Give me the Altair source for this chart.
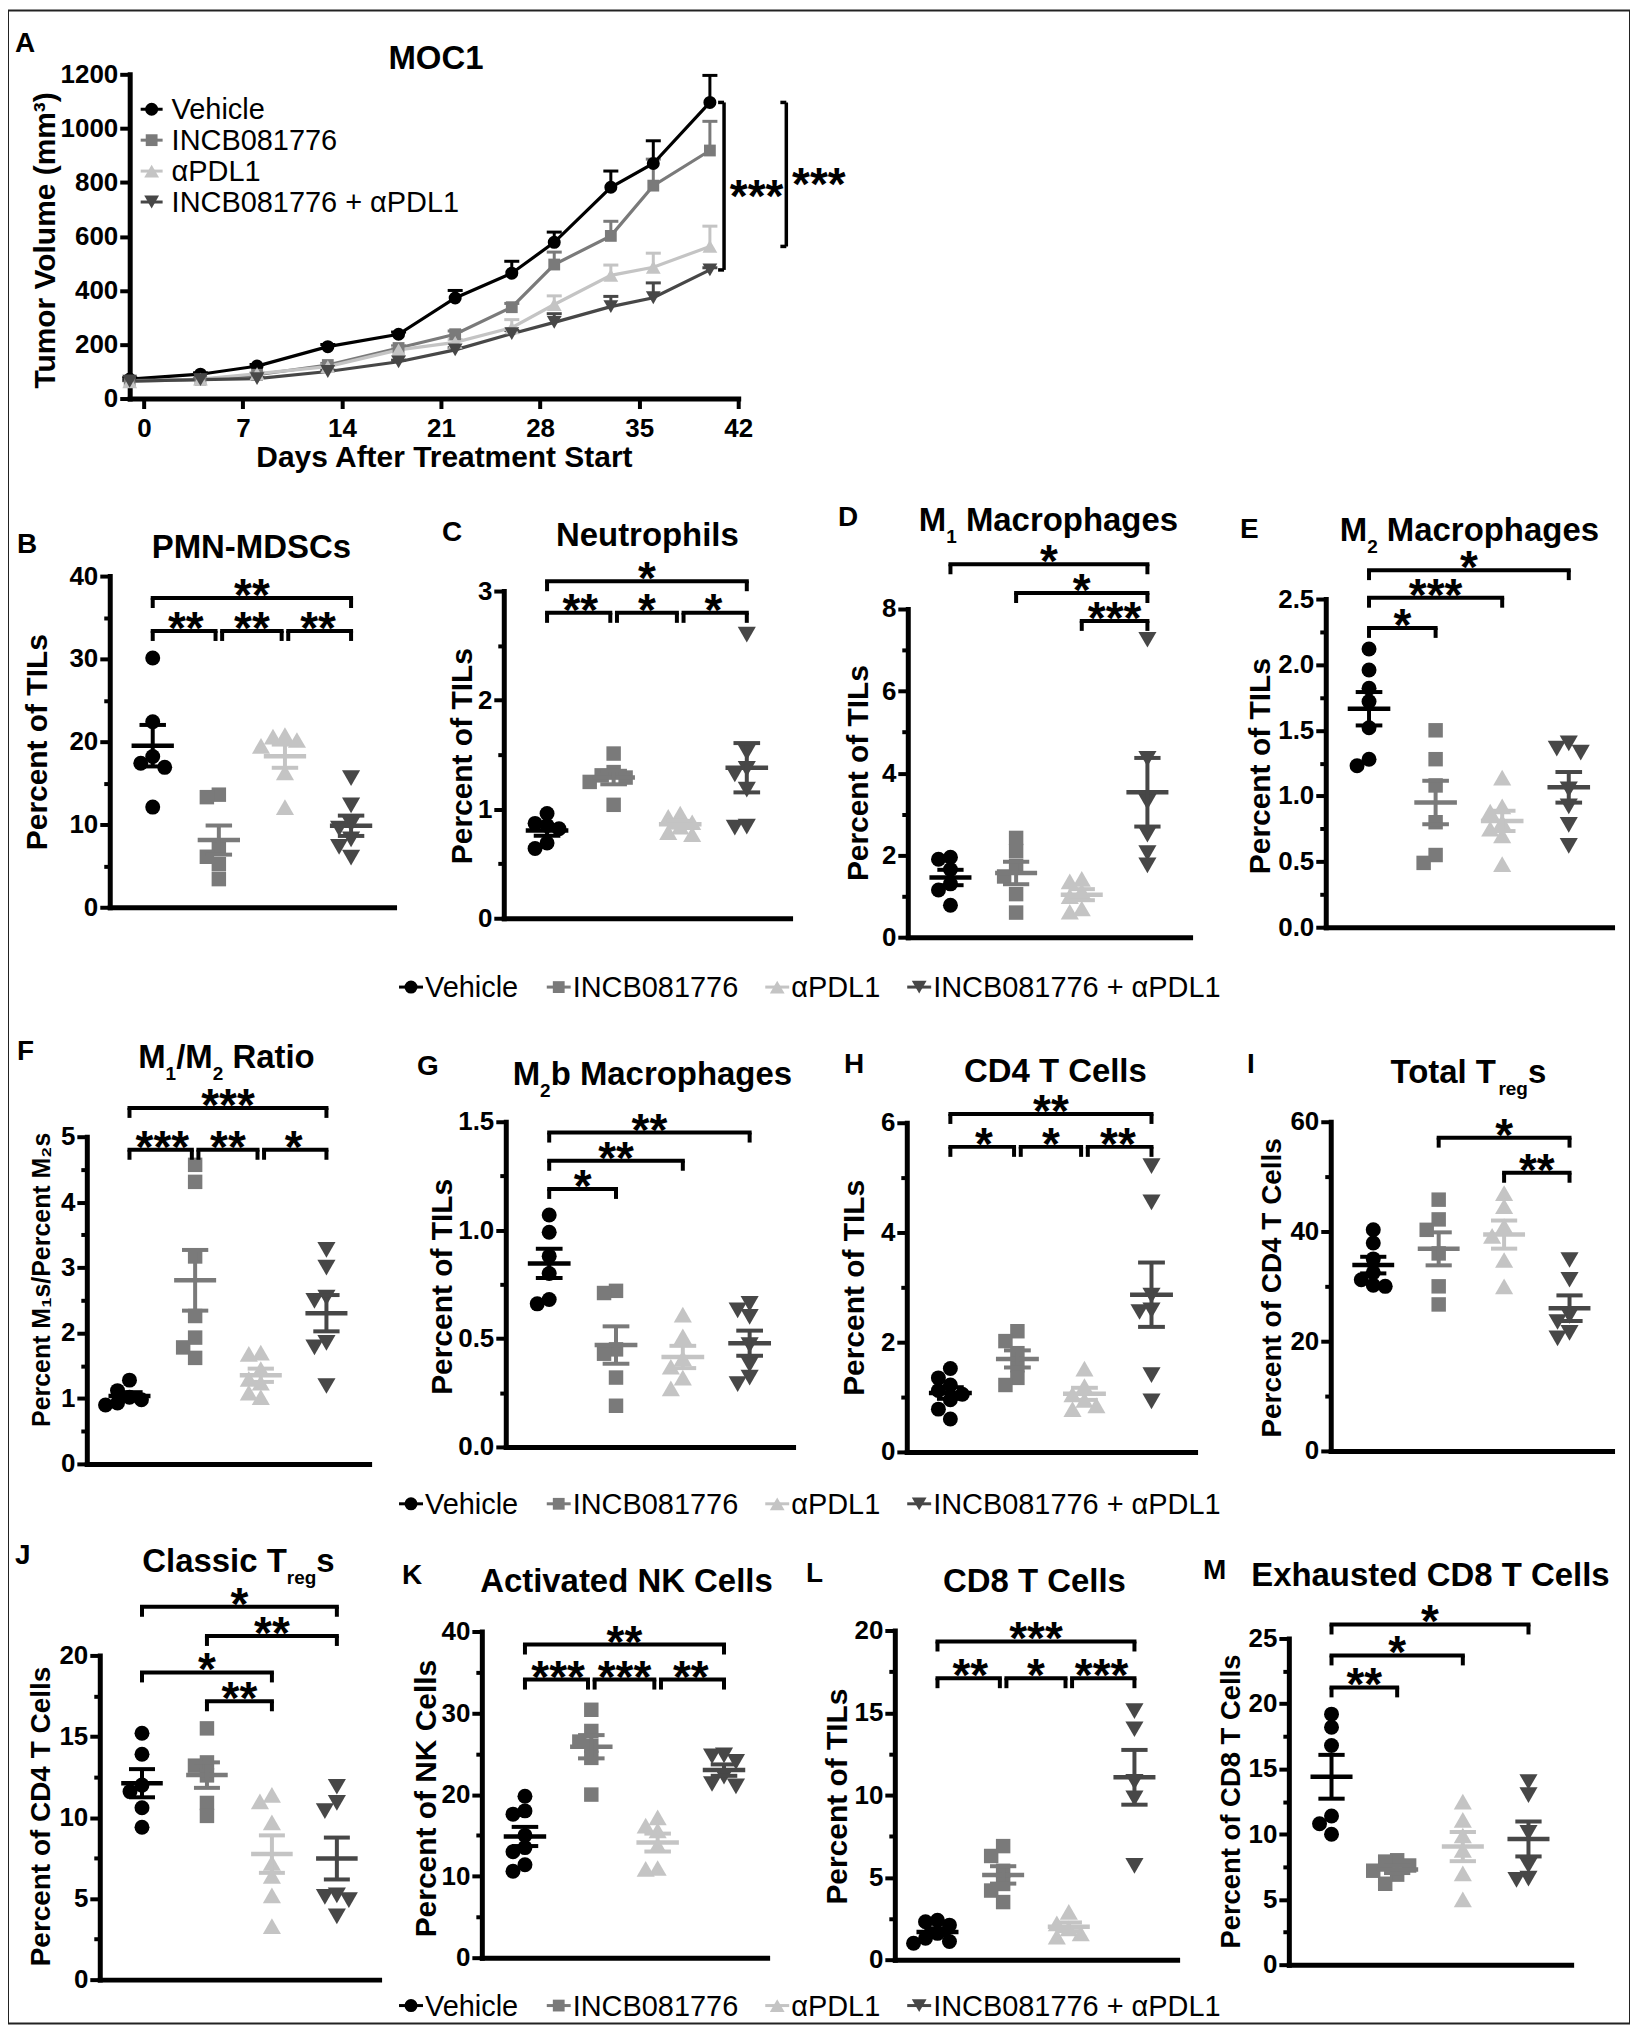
import altair as alt
import pandas as pd

# ---------------------------------------------------------------- data
GROUPS = ["Vehicle", "INCB081776", "αPDL1", "INCB081776 + αPDL1"]

# Panel A  (mean tumour volume, upper SEM)
A_DAYS = [-1, 4, 8, 13, 18, 22, 26, 29, 33, 36, 40]
A_VEHICLE = [72, 90, 120, 192, 238, 372, 464, 578, 782, 870, 1096]
A_VEHICLE_SEM = [5, 5, 6, 8, 8, 28, 44, 38, 60, 84, 100]
A_INCB = [66, 70, 88, 124, 187, 238, 338, 496, 602, 788, 918]
A_INCB_SEM = [4, 4, 5, 6, 8, 12, 14, 46, 54, 98, 108]
A_APDL1 = [62, 72, 92, 118, 180, 208, 262, 348, 456, 486, 563]
A_APDL1_SEM = [3, 4, 5, 6, 8, 10, 30, 32, 38, 52, 75]
A_COMBO = [64, 70, 74, 100, 136, 180, 240, 282, 340, 373, 476]
A_COMBO_SEM = [3, 3, 4, 5, 6, 8, 12, 32, 38, 55, 8]
A_X_TICKS = [0, 7, 14, 21, 28, 35, 42]
A_Y_TICKS = [0, 200, 400, 600, 800, 1000, 1200]
A_SIG = [(0, 3, "***"), (0, 2, "***")]

B_VEHICLE = [30.1, 22.4, 18.2, 17.4, 16.9, 12.1]
B_INCB = [13.6, 13.3, 7.1, 6.1, 5.2, 3.4]
B_APDL1 = [20.8, 20.6, 20.2, 19.5, 16.3, 12.1]
B_COMBO = [15.6, 12.3, 10.0, 9.5, 8.2, 7.3, 6.0]
B_TICKS = [0, 10, 20, 30, 40]
B_MINOR = [5, 15, 25, 35]
B_SIG = [(0, 3, "**"), (0, 1, "**"), (1, 2, "**"), (2, 3, "**")]

C_VEHICLE = [0.96, 0.87, 0.85, 0.82, 0.69, 0.64]
C_INCB = [1.51, 1.34, 1.31, 1.29, 1.25, 1.04]
C_APDL1 = [0.96, 0.93, 0.88, 0.84, 0.79, 0.77]
C_COMBO = [2.60, 1.52, 1.37, 1.32, 1.18, 0.84, 0.83]
C_TICKS = [0, 1, 2, 3]
C_MINOR = [0.5, 1.5, 2.5]
C_SIG = [(0, 3, "*"), (0, 1, "**"), (1, 2, "*"), (2, 3, "*")]

D_VEHICLE = [1.95, 1.90, 1.65, 1.30, 1.15, 0.78]
D_INCB = [2.42, 2.10, 1.74, 1.48, 1.05, 0.60]
D_APDL1 = [1.42, 1.36, 1.12, 1.00, 0.70, 0.62]
D_COMBO = [7.25, 4.35, 3.30, 2.50, 2.05, 1.75]
D_TICKS = [0, 2, 4, 6, 8]
D_MINOR = [1, 3, 5, 7]
D_SIG = [(0, 3, "*"), (1, 3, "*"), (2, 3, "***")]

E_VEHICLE = [2.12, 1.96, 1.82, 1.72, 1.52, 1.28, 1.23]
E_INCB = [1.50, 1.28, 1.08, 0.80, 0.55, 0.49]
E_APDL1 = [1.14, 0.92, 0.88, 0.80, 0.75, 0.70, 0.48]
E_COMBO = [1.40, 1.36, 1.33, 1.05, 0.92, 0.78, 0.62]
E_TICKS = [0, 0.5, 1.0, 1.5, 2.0, 2.5]
E_MINOR = [0.25, 0.75, 1.25, 1.75, 2.25]
E_SIG = [(0, 3, "*"), (0, 2, "***"), (0, 1, "*")]

F_VEHICLE = [1.28, 1.12, 1.02, 0.98, 0.93, 0.90]
F_INCB = [4.57, 4.31, 3.17, 2.26, 1.93, 1.78, 1.62]
F_APDL1 = [1.70, 1.68, 1.45, 1.30, 1.24, 1.09, 1.02]
F_COMBO = [3.27, 3.00, 2.54, 2.49, 1.85, 1.78, 1.19]
F_TICKS = [0, 1, 2, 3, 4, 5]
F_MINOR = [0.5, 1.5, 2.5, 3.5, 4.5]
F_SIG = [(0, 3, "***"), (0, 1, "***"), (1, 2, "**"), (2, 3, "*")]

G_VEHICLE = [1.07, 0.99, 0.88, 0.80, 0.68, 0.66]
G_INCB = [0.72, 0.71, 0.45, 0.43, 0.32, 0.19]
G_APDL1 = [0.61, 0.51, 0.41, 0.37, 0.32, 0.27]
G_COMBO = [0.66, 0.63, 0.60, 0.47, 0.38, 0.32, 0.29]
G_TICKS = [0, 0.5, 1.0, 1.5]
G_MINOR = [0.25, 0.75, 1.25]
G_SIG = [(0, 3, "**"), (0, 2, "**"), (0, 1, "*")]

H_VEHICLE = [1.52, 1.35, 1.22, 1.12, 1.05, 0.95, 0.78, 0.60]
H_INCB = [2.20, 2.02, 1.80, 1.58, 1.35, 1.22]
H_APDL1 = [1.52, 1.20, 1.05, 0.95, 0.85, 0.78]
H_COMBO = [5.21, 4.55, 2.85, 2.58, 2.55, 1.40, 0.92]
H_TICKS = [0, 2, 4, 6]
H_MINOR = [1, 3, 5]
H_SIG = [(0, 3, "**"), (0, 1, "*"), (1, 2, "*"), (2, 3, "**")]

I_VEHICLE = [40.3, 37.9, 35.0, 32.5, 31.2, 30.2, 30.0]
I_INCB = [45.8, 42.2, 40.3, 36.0, 30.0, 26.7]
I_APDL1 = [47.0, 44.6, 41.0, 39.2, 34.8, 30.0]
I_COMBO = [34.8, 31.2, 24.6, 23.5, 21.5, 20.5]
I_TICKS = [0, 20, 40, 60]
I_MINOR = [10, 30, 50]
I_SIG = [(1, 3, "*"), (2, 3, "**")]

J_VEHICLE = [15.2, 13.9, 12.0, 11.6, 10.6, 9.4]
J_INCB = [15.5, 13.4, 13.2, 12.6, 10.9, 10.1]
J_APDL1 = [11.4, 11.0, 9.7, 7.2, 6.4, 5.2, 3.3]
J_COMBO = [11.9, 10.9, 10.4, 5.2, 5.1, 4.9, 3.9]
J_TICKS = [0, 5, 10, 15, 20]
J_MINOR = [2.5, 7.5, 12.5, 17.5]
J_SIG = [(0, 3, "*"), (1, 3, "**"), (0, 2, "*"), (1, 2, "**")]

K_VEHICLE = [19.8, 18.0, 17.6, 15.0, 13.5, 13.0, 11.4, 10.6]
K_INCB = [30.4, 27.8, 26.5, 26.0, 24.5, 20.0]
K_APDL1 = [17.2, 16.2, 15.6, 13.8, 11.0, 10.9]
K_COMBO = [24.8, 24.7, 24.0, 22.2, 21.3, 21.0]
K_TICKS = [0, 10, 20, 30, 40]
K_MINOR = [5, 15, 25, 35]
K_SIG = [(0, 3, "**"), (0, 1, "***"), (1, 2, "***"), (2, 3, "**")]

L_VEHICLE = [2.4, 2.3, 2.1, 1.6, 1.3, 1.1, 1.0]
L_INCB = [6.9, 6.3, 5.4, 4.6, 4.2, 3.5]
L_APDL1 = [2.9, 2.2, 1.9, 1.6, 1.4]
L_COMBO = [15.1, 14.0, 10.8, 9.8, 5.7]
L_TICKS = [0, 5, 10, 15, 20]
L_MINOR = [2.5, 7.5, 12.5, 17.5]
L_SIG = [(0, 3, "***"), (0, 1, "**"), (1, 2, "*"), (2, 3, "***")]

M_VEHICLE = [19.2, 18.2, 16.8, 11.4, 10.8, 10.0]
M_INCB = [8.0, 7.9, 7.6, 7.2, 6.9, 6.2]
M_APDL1 = [12.5, 11.1, 9.9, 8.8, 7.0, 5.0]
M_COMBO = [14.0, 13.0, 10.1, 7.6, 6.6, 6.5]
M_TICKS = [0, 5, 10, 15, 20, 25]
M_MINOR = [2.5, 7.5, 12.5, 17.5, 22.5]
M_SIG = [(0, 3, "*"), (0, 2, "*"), (0, 1, "**")]

# ---------------------------------------------------------------- style / layout
COLORS = ["#000000", "#7a7a7a", "#c4c4c4", "#474747"]
SHAPES = ["circle", "square", "triangle-up", "triangle-down"]
DOT_SIZE = [225, 210, 330, 330]
A_DOT_SIZE = [170, 140, 220, 220]
FONT = "Liberation Sans, Arial, Helvetica, sans-serif"
OFF = 8            # page margin
W, H = 1626, 2018  # canvas

BOLD_W = {' ': .278, '/': .278, '-': .333, 'A': .722, 'B': .722, 'C': .722, 'D': .722,
          'E': .667, 'F': .611, 'G': .778, 'H': .722, 'I': .278, 'J': .556, 'K': .722,
          'L': .611, 'M': .833, 'N': .722, 'O': .778, 'P': .667, 'R': .722, 'S': .667,
          'T': .611, 'a': .556, 'b': .611, 'c': .556, 'd': .611, 'e': .556, 'g': .611,
          'h': .611, 'i': .278, 'l': .278, 'm': .889, 'n': .611, 'o': .611, 'p': .611,
          'r': .389, 's': .556, 't': .333, 'u': .611, 'v': .556, 'x': .556}
REG_W = {' ': .278, '+': .584, 'B': .667, 'C': .722, 'D': .722, 'I': .278, 'L': .556,
         'N': .722, 'P': .667, 'V': .667, 'c': .5, 'e': .556, 'h': .556, 'i': .222,
         'l': .222, 'α': .579}


def tw(s, fs, table):
    return fs * sum(table.get(ch, 0.556) for ch in s)


PANELS = {
    "B": (B_VEHICLE, B_INCB, B_APDL1, B_COMBO, B_TICKS, B_MINOR, B_SIG),
    "C": (C_VEHICLE, C_INCB, C_APDL1, C_COMBO, C_TICKS, C_MINOR, C_SIG),
    "D": (D_VEHICLE, D_INCB, D_APDL1, D_COMBO, D_TICKS, D_MINOR, D_SIG),
    "E": (E_VEHICLE, E_INCB, E_APDL1, E_COMBO, E_TICKS, E_MINOR, E_SIG),
    "F": (F_VEHICLE, F_INCB, F_APDL1, F_COMBO, F_TICKS, F_MINOR, F_SIG),
    "G": (G_VEHICLE, G_INCB, G_APDL1, G_COMBO, G_TICKS, G_MINOR, G_SIG),
    "H": (H_VEHICLE, H_INCB, H_APDL1, H_COMBO, H_TICKS, H_MINOR, H_SIG),
    "I": (I_VEHICLE, I_INCB, I_APDL1, I_COMBO, I_TICKS, I_MINOR, I_SIG),
    "J": (J_VEHICLE, J_INCB, J_APDL1, J_COMBO, J_TICKS, J_MINOR, J_SIG),
    "K": (K_VEHICLE, K_INCB, K_APDL1, K_COMBO, K_TICKS, K_MINOR, K_SIG),
    "L": (L_VEHICLE, L_INCB, L_APDL1, L_COMBO, L_TICKS, L_MINOR, L_SIG),
    "M": (M_VEHICLE, M_INCB, M_APDL1, M_COMBO, M_TICKS, M_MINOR, M_SIG),
}

LAYOUT = {
    "B": dict(x=(110, 395), y=(907, 575), fmt="d", yt="Percent of TILs", ytfs=30, ytp=(47, 741),
              letter=(17, 552), title=[("PMN-MDSCs", 0)], tpos=(252, 557),
              levels=[37.35, 33.37, 33.37, 33.37]),
    "C": dict(x=(505, 792), y=(918, 590), fmt="d", yt="Percent of TILs", ytfs=30, ytp=(473, 755),
              letter=(443, 540), title=[("Neutrophils", 0)], tpos=(649, 545),
              levels=[3.09, 2.80, 2.80, 2.80]),
    "D": dict(x=(910, 1193), y=(937, 608), fmt="d", yt="Percent of TILs", ytfs=30, ytp=(870, 772),
              letter=(840, 525), title=[("M", 0), ("1", 1), (" Macrophages", 0)], tpos=(1051, 530),
              levels=[9.09, 8.39, 7.71]),
    "E": dict(x=(1329, 1616), y=(927, 598), fmt=".1f", yt="Percent of TILs", ytfs=30, ytp=(1273, 765),
              letter=(1243, 537), title=[("M", 0), ("2", 1), (" Macrophages", 0)], tpos=(1473, 540),
              levels=[2.72, 2.51, 2.28]),
    "F": dict(x=(87, 370), y=(1465, 1137), fmt="d", yt="Percent M₁s/Percent M₂s", ytfs=25, ytp=(50, 1280),
              letter=(17, 1060), title=[("M", 0), ("1", 1), ("/M", 0), ("2", 1), (" Ratio", 0)],
              tpos=(227, 1068), levels=[5.44, 4.80, 4.80, 4.80]),
    "G": dict(x=(507, 795), y=(1448, 1122), fmt=".1f", yt="Percent of TILs", ytfs=30, ytp=(453, 1287),
              letter=(418, 1075), title=[("M", 0), ("2", 1), ("b Macrophages", 0)], tpos=(654, 1085),
              levels=[1.45, 1.32, 1.19]),
    "H": dict(x=(909, 1198), y=(1453, 1123), fmt="d", yt="Percent of TILs", ytfs=30, ytp=(866, 1288),
              letter=(846, 1073), title=[("CD4 T Cells", 0)], tpos=(1058, 1082),
              levels=[6.16, 5.56, 5.56, 5.56]),
    "I": dict(x=(1334, 1616), y=(1452, 1122), fmt="d", yt="Percent of CD4 T Cells", ytfs=28, ytp=(1284, 1288),
              letter=(1250, 1073), title=[("Total T", 0), ("reg", 1), ("s", 0)], tpos=(1472, 1083),
              levels=[57.1, 50.7]),
    "J": dict(x=(100, 380), y=(1982, 1657), fmt="d", yt="Percent of CD4 T Cells", ytfs=28, ytp=(50, 1818),
              letter=(15, 1565), title=[("Classic T", 0), ("reg", 1), ("s", 0)], tpos=(239, 1573),
              levels=[23.0, 21.2, 18.95, 17.17]),
    "K": dict(x=(483, 769), y=(1960, 1633), fmt="d", yt="Percent of NK Cells", ytfs=30, ytp=(437, 1800),
              letter=(403, 1585), title=[("Activated NK Cells", 0)], tpos=(628, 1593),
              levels=[38.4, 34.1, 34.1, 34.1]),
    "L": dict(x=(897, 1180), y=(1962, 1632), fmt="d", yt="Percent of TILs", ytfs=30, ytp=(849, 1798),
              letter=(808, 1583), title=[("CD8 T Cells", 0)], tpos=(1037, 1593),
              levels=[19.33, 17.1, 17.1, 17.1]),
    "M": dict(x=(1292, 1575), y=(1967, 1640), fmt="d", yt="Percent of CD8 T Cells", ytfs=27.5, ytp=(1243, 1803),
              letter=(1206, 1580), title=[("Exhausted CD8 T Cells", 0)], tpos=(1434, 1587),
              levels=[26.07, 23.7, 21.25]),
}

XDOM = [-0.65, 3.65]
MEAN_HW, CAP_HW = 0.32, 0.20
LEG_PX = 10
STAR_FS = 46
TITLE_FS, SUB_FS, SUB_DY = 33, 19, 12
LETTER_FS = 28
LEGEND_FS = 29

AX = dict(domainColor="black", domainWidth=5, domainCap="square", tickColor="black",
          tickWidth=4, grid=False, labelFont=FONT, labelFontSize=26, labelFontWeight="bold",
          labelColor="black", titleFont=FONT, titleFontWeight="bold", titleColor="black",
          labelOverlap=False, labelFlush=False)

COLOR = alt.Color("grp:N", scale=alt.Scale(domain=GROUPS, range=COLORS), legend=None)
SHAPE = alt.Shape("grp:N", scale=alt.Scale(domain=GROUPS, range=SHAPES), legend=None)


def sc(dom, rng):
    return alt.Scale(domain=dom, range=rng, nice=False, zero=False)


def swarm(vals, ppu, ppg, step=12.0, mind=12.0):
    order = sorted(range(len(vals)), key=lambda i: -vals[i])
    placed, offs = [], [0.0] * len(vals)
    for i in order:
        y = vals[i] * ppu
        x = 0.0
        for k in (0, -1, 1, -2, 2, -3, 3):
            x = k * step
            if all((x - a) ** 2 + (y - b) ** 2 >= mind ** 2 - 1e-6 for a, b in placed):
                break
        placed.append((x, y))
        offs[i] = x / ppg
    return offs


layers = []
ann_rows = []      # bold text placed in page pixels
leg_pts, leg_lines, leg_txt = [], [], []


def add_title(parts, cx, base):
    widths = []
    for t, sub in parts:
        widths.append(tw(t, SUB_FS if sub else TITLE_FS, BOLD_W))
    x = cx - sum(widths) / 2
    for (t, sub), w in zip(parts, widths):
        fs = SUB_FS if sub else TITLE_FS
        lead = len(t) - len(t.lstrip(" "))
        ann_rows.append(dict(px=x + tw(" " * lead, fs, BOLD_W) - OFF,
                             py=base + (SUB_DY if sub else 0) - OFF, t=t.strip(" "), fs=fs))
        x += w


# ---------------------------------------------------------------- panel A
xsA = sc([-1, 42], [130 - OFF, 740 - OFF])
ysA = sc([0, 1200], [397 - OFF, 72 - OFF])
A_CAP = 0.53
a_series = [(A_VEHICLE, A_VEHICLE_SEM), (A_INCB, A_INCB_SEM),
            (A_APDL1, A_APDL1_SEM), (A_COMBO, A_COMBO_SEM)]
rows = []
for g, (vals, errs) in enumerate(a_series):
    for d, v, e in zip(A_DAYS, vals, errs):
        rows.append(dict(grp=GROUPS[g], day=d, v=v, top=v + e, d1=d - A_CAP, d2=d + A_CAP,
                         sz=A_DOT_SIZE[g]))
adf = pd.DataFrame(rows)

layers.append(alt.Chart(adf).mark_rule(strokeWidth=3).encode(
    x=alt.X("day:Q", scale=xsA, axis=None), y=alt.Y("v:Q", scale=ysA, axis=None),
    y2="top:Q", color=COLOR))
layers.append(alt.Chart(adf).mark_rule(strokeWidth=3).encode(
    x=alt.X("d1:Q", scale=xsA, axis=None), x2="d2:Q",
    y=alt.Y("top:Q", scale=ysA, axis=None), color=COLOR))
layers.append(alt.Chart(adf).mark_line(strokeWidth=3.2).encode(
    x=alt.X("day:Q", scale=xsA,
            axis=alt.Axis(orient="bottom", offset=(397 - OFF) - H, values=A_X_TICKS, format="d",
                          tickSize=10, labelPadding=7, title="Days After Treatment Start",
                          titleFontSize=30, titleX=445 - OFF, titleY=465 - 397, titleAngle=0,
                          titleAlign="center", titleBaseline="alphabetic", **AX)),
    y=alt.Y("v:Q", scale=ysA,
            axis=alt.Axis(orient="left", offset=-(130 - OFF), values=A_Y_TICKS, format="d",
                          tickSize=10, labelPadding=2, title="Tumor Volume (mm³)",
                          titleFontSize=30, titleX=55 - 130, titleY=238 - OFF, titleAngle=270,
                          titleAlign="center", titleBaseline="alphabetic", **AX)),
    color=COLOR, detail="grp:N"))
layers.append(alt.Chart(adf).mark_point(filled=True, opacity=1).encode(
    x=alt.X("day:Q", scale=xsA, axis=None), y=alt.Y("v:Q", scale=ysA, axis=None),
    color=COLOR, shape=SHAPE, size=alt.Size("sz:Q", scale=None, legend=None)))

# A significance brackets ("]" shape right of the curves)
A_BX = [41.0, 45.4]
finals = [s[0][-1] for s in a_series]
brk, ends, stars = [], [], []
for (i, j, txt), bx in zip(A_SIG, A_BX):
    hi, lo = max(finals[i], finals[j]), min(finals[i], finals[j])
    brk.append(dict(bx=bx, lo=lo, hi=hi))
    ends.append(dict(e1=bx - 0.42, e2=bx, ey=hi))
    ends.append(dict(e1=bx - 0.42, e2=bx, ey=lo))
    stars.append(dict(sx=bx + 2.3, sy=(hi + lo) / 2, t=txt))
layers.append(alt.Chart(pd.DataFrame(brk)).mark_rule(strokeWidth=3.5, color="black").encode(
    x=alt.X("bx:Q", scale=xsA, axis=None), y=alt.Y("lo:Q", scale=ysA, axis=None), y2="hi:Q"))
layers.append(alt.Chart(pd.DataFrame(ends)).mark_rule(strokeWidth=3.5, color="black").encode(
    x=alt.X("e1:Q", scale=xsA, axis=None), x2="e2:Q", y=alt.Y("ey:Q", scale=ysA, axis=None)))
layers.append(alt.Chart(pd.DataFrame(stars)).mark_text(
    font=FONT, fontSize=STAR_FS, fontWeight="bold", align="center", baseline="alphabetic",
    dy=26, color="black").encode(
    x=alt.X("sx:Q", scale=xsA, axis=None), y=alt.Y("sy:Q", scale=ysA, axis=None), text="t:N"))

# A legend (inside plot)
for g in range(4):
    y = 107 + 31 * g
    leg_pts.append(dict(px=152 - OFF, py=y - OFF, grp=GROUPS[g], sz=A_DOT_SIZE[g]))
    leg_lines.append(dict(x1=141 - OFF, x2=163 - OFF, py=y - OFF, grp=GROUPS[g]))
    leg_txt.append(dict(px=172 - OFF, py=y + 10 - OFF, t=GROUPS[g]))
ann_rows.append(dict(px=15 - OFF, py=50 - OFF, t="A", fs=LETTER_FS))
add_title([("MOC1", 0)], 437, 67)

# ---------------------------------------------------------------- scatter panels
for key, (v0, v1, v2, v3, ticks, minor, sig) in PANELS.items():
    lay = LAYOUT[key]
    (x0, x1), (yb, yt) = lay["x"], lay["y"]
    ymax = ticks[-1]
    xs = sc(XDOM, [x0 - OFF, x1 - OFF])
    ys = sc([0, ymax], [yb - OFF, yt - OFF])
    ppg = (x1 - x0) / (XDOM[1] - XDOM[0])
    ppu = (yb - yt) / ymax

    prow, srow, crow = [], [], []
    for g, vals in enumerate((v0, v1, v2, v3)):
        offs = swarm(vals, ppu, ppg)
        for v, o in zip(vals, offs):
            prow.append(dict(grp=GROUPS[g], x=g + o, v=v, sz=DOT_SIZE[g]))
        s = pd.Series(vals)
        m, se = s.mean(), s.std(ddof=1) / len(vals) ** 0.5
        srow.append(dict(grp=GROUPS[g], g=g, mean=m, lo=m - se, hi=m + se,
                         m1=g - MEAN_HW, m2=g + MEAN_HW))
        for yc in (m - se, m + se):
            crow.append(dict(grp=GROUPS[g], yc=yc, c1=g - CAP_HW, c2=g + CAP_HW))

    yaxis = alt.Axis(orient="left", offset=-(x0 - OFF), values=ticks, format=lay["fmt"],
                     tickSize=10, labelPadding=2, title=lay["yt"], titleFontSize=lay["ytfs"],
                     titleX=lay["ytp"][0] - x0, titleY=lay["ytp"][1] - OFF, titleAngle=270,
                     titleAlign="center", titleBaseline="alphabetic", **AX)
    xaxis = alt.Axis(orient="bottom", offset=(yb - OFF) - H, labels=False, ticks=False,
                     title=None, **AX)
    minor_axis = alt.Axis(orient="left", offset=-(x0 - OFF), values=minor, labels=False,
                          domain=False, tickSize=6, tickWidth=4, tickColor="black",
                          grid=False, title=None)

    layers.append(alt.Chart(pd.DataFrame(prow)).mark_point(filled=True, opacity=1).encode(
        x=alt.X("x:Q", scale=xs, axis=xaxis), y=alt.Y("v:Q", scale=ys, axis=yaxis),
        color=COLOR, shape=SHAPE, size=alt.Size("sz:Q", scale=None, legend=None)))
    sdf = pd.DataFrame(srow)
    layers.append(alt.Chart(sdf).mark_rule(strokeWidth=4.5).encode(
        x=alt.X("m1:Q", scale=xs, axis=None), x2="m2:Q",
        y=alt.Y("mean:Q", scale=ys, axis=minor_axis), color=COLOR))
    layers.append(alt.Chart(sdf).mark_rule(strokeWidth=4).encode(
        x=alt.X("g:Q", scale=xs, axis=None), y=alt.Y("lo:Q", scale=ys, axis=None),
        y2="hi:Q", color=COLOR))
    layers.append(alt.Chart(pd.DataFrame(crow)).mark_rule(strokeWidth=4).encode(
        x=alt.X("c1:Q", scale=xs, axis=None), x2="c2:Q",
        y=alt.Y("yc:Q", scale=ys, axis=None), color=COLOR))

    # significance brackets
    leg = LEG_PX * ymax / (yb - yt)
    brows, lrows = [], []
    for (i, j, txt), lev in zip(sig, lay["levels"]):
        same = [(a, b) for (a, b, _), l2 in zip(sig, lay["levels"]) if abs(l2 - lev) < 1e-9]
        b1 = i + (0.05 if any(b == i for a, b in same) else 0.0)
        b2 = j - (0.05 if any(a == j for a, b in same) else 0.0)
        brows.append(dict(b1=b1, b2=b2, lev=lev, mid=(i + j) / 2, t=txt))
        lrows.append(dict(lx=b1, lev=lev, low=lev - leg))
        lrows.append(dict(lx=b2, lev=lev, low=lev - leg))
    bdf = pd.DataFrame(brows)
    layers.append(alt.Chart(bdf).mark_rule(strokeWidth=4, color="black", strokeCap="square").encode(
        x=alt.X("b1:Q", scale=xs, axis=None), x2="b2:Q", y=alt.Y("lev:Q", scale=ys, axis=None)))
    layers.append(alt.Chart(pd.DataFrame(lrows)).mark_rule(strokeWidth=4, color="black").encode(
        x=alt.X("lx:Q", scale=xs, axis=None), y=alt.Y("lev:Q", scale=ys, axis=None), y2="low:Q"))
    layers.append(alt.Chart(bdf).mark_text(
        font=FONT, fontSize=STAR_FS, fontWeight="bold", align="center", baseline="alphabetic",
        dy=13, color="black").encode(
        x=alt.X("mid:Q", scale=xs, axis=None), y=alt.Y("lev:Q", scale=ys, axis=None), text="t:N"))

    ann_rows.append(dict(px=lay["letter"][0] - OFF, py=lay["letter"][1] - OFF, t=key, fs=LETTER_FS))
    add_title(lay["title"], *lay["tpos"])

# ---------------------------------------------------------------- row legends
for ly in (987, 1505, 2008):
    x = 412
    for g in range(4):
        leg_pts.append(dict(px=x - OFF, py=ly - OFF, grp=GROUPS[g], sz=A_DOT_SIZE[g]))
        leg_lines.append(dict(x1=x - 12 - OFF, x2=x + 12 - OFF, py=ly - OFF, grp=GROUPS[g]))
        leg_txt.append(dict(px=x + 14 - OFF, py=ly + 10 - OFF, t=GROUPS[g]))
        x = x + 14 + tw(GROUPS[g], LEGEND_FS, REG_W) + 39

PX = alt.X("px:Q", scale=None, axis=None)
PY = alt.Y("py:Q", scale=None, axis=None)
layers.append(alt.Chart(pd.DataFrame(leg_lines)).mark_rule(strokeWidth=3).encode(
    x=alt.X("x1:Q", scale=None, axis=None), x2="x2:Q", y=PY, color=COLOR))
layers.append(alt.Chart(pd.DataFrame(leg_pts)).mark_point(filled=True, opacity=1).encode(
    x=PX, y=PY, color=COLOR, shape=SHAPE, size=alt.Size("sz:Q", scale=None, legend=None)))
layers.append(alt.Chart(pd.DataFrame(leg_txt)).mark_text(
    font=FONT, fontSize=LEGEND_FS, align="left", baseline="alphabetic", color="black").encode(
    x=PX, y=PY, text="t:N"))
layers.append(alt.Chart(pd.DataFrame(ann_rows)).mark_text(
    font=FONT, fontWeight="bold", align="left", baseline="alphabetic", color="black").encode(
    x=PX, y=PY, text="t:N", size=alt.Size("fs:Q", scale=None, legend=None)))

chart = alt.layer(*layers).properties(
    width=W, height=H, padding=0, background="white",
    autosize=alt.AutoSizeParams(type="none"),
).resolve_scale(x="independent", y="independent").configure_view(
    stroke="#222222", strokeWidth=2)

chart.save("out.html", embed_options={"renderer": "svg", "actions": False})
